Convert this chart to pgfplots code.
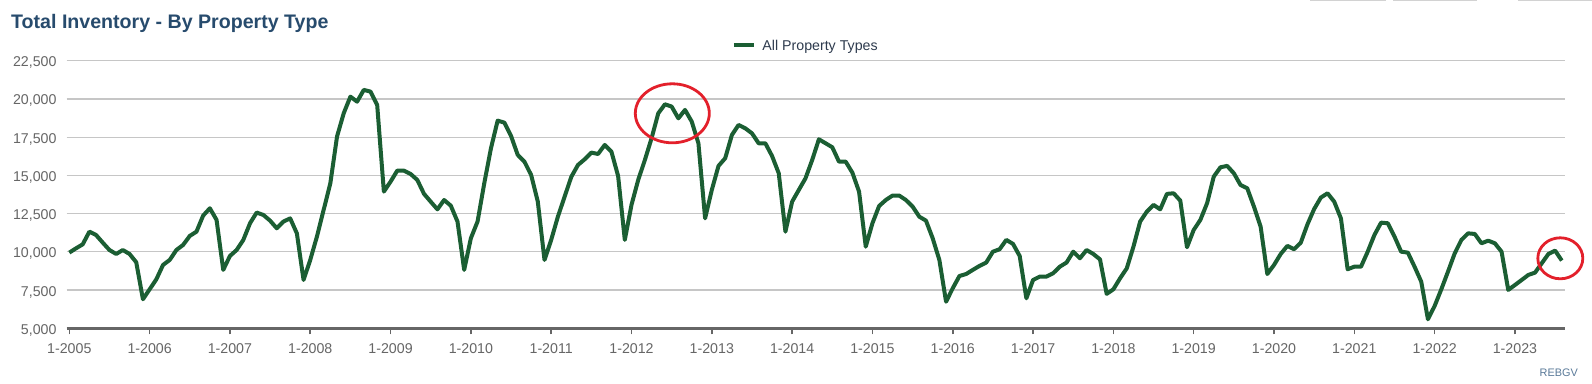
\documentclass[border=0pt]{standalone}
\usepackage{pgfplots}
\pgfplotsset{compat=1.18}
\usepackage{pgfplotstable}
\usepackage{fontspec}
\setmainfont{Liberation Sans}
\definecolor{linegreen}{HTML}{1B5E33}
\definecolor{gridgray}{HTML}{C6C6C6}
\definecolor{axisgray}{HTML}{666666}
\definecolor{labelgray}{HTML}{666666}
\definecolor{titleblue}{HTML}{274B6D}
\definecolor{legendtext}{HTML}{2E3B4E}
\definecolor{srcblue}{HTML}{5A7A99}
\definecolor{circlered}{HTML}{E3202B}

\pgfplotstableread{
m v
0 9950
1 10230
2 10490
3 11320
4 11100
5 10600
6 10120
7 9860
8 10120
9 9860
10 9320
11 6900
12 7550
13 8200
14 9140
15 9470
16 10120
17 10450
18 11040
19 11320
20 12370
21 12850
22 12090
23 8820
24 9730
25 10120
26 10780
27 11870
28 12570
29 12410
30 12040
31 11540
32 11980
33 12190
34 11210
35 8160
36 9470
37 11000
38 12740
39 14480
40 17540
41 19060
42 20150
43 19820
44 20590
45 20480
46 19610
47 13940
48 14590
49 15310
50 15310
51 15090
52 14700
53 13790
54 13280
55 12780
56 13390
57 13020
58 11980
59 8820
60 10890
61 11980
62 14480
63 16770
64 18580
65 18450
66 17580
67 16340
68 15900
69 15030
70 13280
71 9470
72 10780
73 12300
74 13600
75 14900
76 15680
77 16050
78 16490
79 16400
80 16990
81 16550
82 14960
83 10780
84 13070
85 14700
86 16010
87 17430
88 19060
89 19650
90 19500
91 18730
92 19280
93 18520
94 17100
95 12190
96 14050
97 15620
98 16120
99 17640
100 18300
101 18080
102 17750
103 17100
104 17100
105 16270
106 15140
107 11320
108 13280
109 14050
110 14810
111 16010
112 17360
113 17100
114 16840
115 15900
116 15900
117 15180
118 13940
119 10340
120 11870
121 13000
122 13390
123 13680
124 13680
125 13390
126 12960
127 12300
128 12040
129 10890
130 9470
131 6740
132 7620
133 8420
134 8550
135 8820
136 9080
137 9300
138 10010
139 10170
140 10780
141 10520
142 9730
143 6960
144 8160
145 8380
146 8380
147 8600
148 9030
149 9300
150 10010
151 9580
152 10120
153 9860
154 9510
155 7250
156 7550
157 8270
158 8920
159 10340
160 11980
161 12630
162 13070
163 12780
164 13790
165 13830
166 13350
167 10300
168 11430
169 12090
170 13180
171 14920
172 15530
173 15620
174 15140
175 14370
176 14160
177 12960
178 11650
179 8550
180 9140
181 9860
182 10390
183 10170
184 10600
185 11800
186 12800
187 13550
188 13830
189 13280
190 12190
191 8860
192 9030
193 9030
194 10010
195 11100
196 11910
197 11870
198 11000
199 10010
200 9950
201 9030
202 8050
203 5590
204 6460
205 7550
206 8710
207 9900
208 10780
209 11210
210 11170
211 10560
212 10730
213 10560
214 10010
215 7510
216 7830
217 8160
218 8490
219 8640
220 9250
221 9860
222 10080
223 9430
}\inventory

\begin{document}
\begin{tikzpicture}
\useasboundingbox (0,0) rectangle (1592pt,383pt);
\fill[white] (0,0) rectangle (1592pt,383pt);
\begin{axis}[
  at={(66.7pt,54.7pt)}, anchor=south west,
  scale only axis, width=1498.3pt, height=267.6pt,
  xmin=-0.39, xmax=223.48, ymin=5000, ymax=22500,
  axis x line*=bottom, axis y line*=left,
  x axis line style={draw=axisgray, line width=3pt},
  y axis line style={draw=none},
  scaled y ticks=false, scaled x ticks=false,
  xtick={0,12,...,216},
  xticklabels={1-2005,1-2006,1-2007,1-2008,1-2009,1-2010,1-2011,1-2012,1-2013,1-2014,1-2015,1-2016,1-2017,1-2018,1-2019,1-2020,1-2021,1-2022,1-2023},
  ytick={5000,7500,10000,12500,15000,17500,20000,22500},
  yticklabels={{5,000},{7,500},{10,000},{12,500},{15,000},{17,500},{20,000},{22,500}},
  ymajorgrids, major grid style={draw=gridgray, line width=1.2pt},
  xtick align=outside, ytick align=inside,
  major tick length=6pt,
  xtick style={draw=axisgray, line width=1.5pt},
  ytick style={draw=none},
  tick label style={font=\fontsize{14.2pt}{17pt}\selectfont, text=labelgray},
  xticklabel style={anchor=north, inner sep=0pt, yshift=-9pt},
  yticklabel style={anchor=east, inner sep=0pt, xshift=-10pt, yshift=-2pt},
  legend style={at={(axis description cs:0.44382,1.0587)}, anchor=west,
    draw=none, fill=none, inner sep=0pt, column sep=0pt,
    nodes={inner sep=0pt, text depth=0pt},
    font=\fontsize{14.2pt}{17pt}\selectfont, text=legendtext},
  legend image code/.code={\draw[#1, line width=4pt, line cap=butt] (0pt,0pt) -- (20pt,0pt); \path (26.6pt,0pt);},
]
\addplot[color=linegreen, line width=4pt, line join=round, mark=none] table[x=m, y=v] {\inventory};
\addlegendentry{All Property Types}
\end{axis}
\draw[circlered, line width=2.8pt] (672.3pt,269.7pt) ellipse [x radius=37pt, y radius=29.5pt];
\draw[circlered, line width=2.8pt] (1560.3pt,124.7pt) ellipse [x radius=22.5pt, y radius=20.5pt];
\node[anchor=base west, inner sep=0pt, text=titleblue, font=\fontsize{19.6pt}{23pt}\selectfont\bfseries] at (11pt,354.7pt) {Total Inventory - By Property Type};
\node[anchor=base east, inner sep=0pt, text=srcblue, font=\fontsize{10.9pt}{13pt}\selectfont] at (1578pt,7pt) {REBGV};
\draw[gray!35, line width=1.2pt] (1310pt,382.6pt) -- (1386pt,382.6pt);
\draw[gray!35, line width=1.2pt] (1393pt,382.6pt) -- (1477pt,382.6pt);
\draw[gray!35, line width=1.2pt] (1518pt,382.6pt) -- (1592pt,382.6pt);
\end{tikzpicture}
\end{document}
